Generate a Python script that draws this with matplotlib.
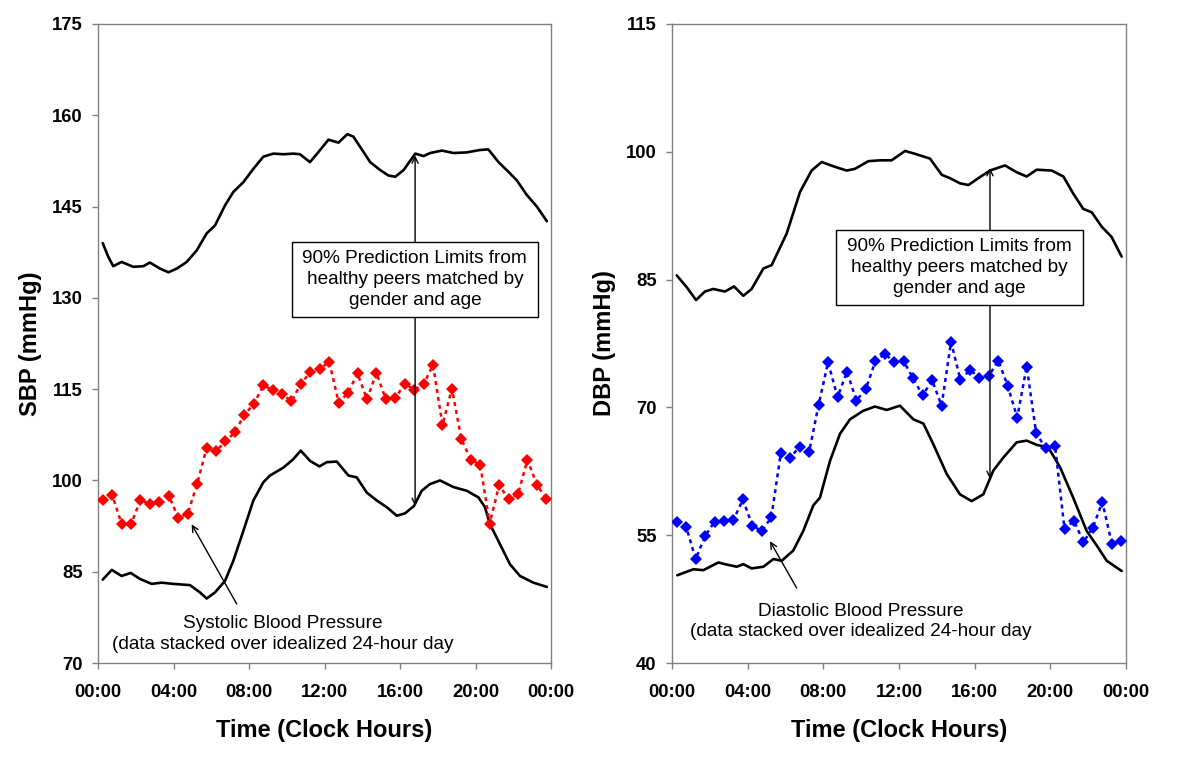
import matplotlib
matplotlib.use("Agg")
import matplotlib.pyplot as plt
from matplotlib.patches import Rectangle

plt.rcParams['font.family'] = ['Liberation Sans', 'DejaVu Sans']

# ---------------- data ----------------
obs_hours = [0.25 + 0.5 * i for i in range(48)]

sbp_values = [96.8, 97.6, 92.9, 92.8, 96.8, 96.1, 96.5, 97.5, 93.9, 94.5,
              99.4, 105.3, 104.8, 106.4, 107.9, 110.8, 112.5, 115.6, 114.9, 114.2,
              113.0, 115.9, 117.8, 118.3, 119.5, 112.8, 114.4, 117.6, 113.3, 117.7,
              113.3, 113.5, 115.9, 114.9, 115.8, 119.0, 109.1, 115.1, 106.8, 103.4,
              102.6, 92.9, 99.2, 97.0, 97.7, 103.4, 99.3, 97.0]

dbp_values = [56.6, 56.0, 52.2, 54.9, 56.6, 56.7, 56.8, 59.2, 56.1, 55.5,
              57.1, 64.6, 64.1, 65.4, 64.8, 70.3, 75.3, 71.2, 74.2, 70.8,
              72.2, 75.4, 76.3, 75.3, 75.4, 73.4, 71.4, 73.2, 70.2, 77.7,
              73.2, 74.4, 73.5, 73.7, 75.5, 72.5, 68.8, 74.8, 67.0, 65.2,
              65.5, 55.7, 56.7, 54.2, 55.9, 58.9, 54.0, 54.3]

sbp_upper_hours = [0.25, 0.55, 0.81, 1.25, 1.87, 2.4, 2.75, 3.29, 3.73, 4.17, 4.70, 5.23,
                   5.76, 6.20, 6.73, 7.17, 7.70, 8.23, 8.76, 9.29, 9.82, 10.35, 10.7,
                   11.23, 11.77, 12.21, 12.74, 13.21, 13.53, 13.89, 14.42, 14.95, 15.39,
                   15.75, 16.19, 16.81, 17.25, 17.6, 18.22, 18.84, 19.54, 20.24, 20.68,
                   21.22, 21.75, 22.19, 22.72, 23.25, 23.78]
sbp_upper_values = [139.0, 136.7, 135.2, 135.9, 135.1, 135.2, 135.8, 134.8, 134.2, 134.8,
                    135.9, 137.8, 140.6, 141.9, 145.2, 147.4, 149.0, 151.2, 153.2, 153.7,
                    153.6, 153.7, 153.6, 152.3, 154.3, 156.0, 155.5, 156.9, 156.5, 154.8,
                    152.3, 151.0, 150.1, 149.9, 151.0, 153.7, 153.3, 153.8, 154.2, 153.8,
                    153.9, 154.3, 154.4, 152.3, 150.7, 149.3, 146.9, 145.0, 142.6]

sbp_lower_hours = [0.25, 0.73, 1.25, 1.73, 2.23, 2.84, 3.37, 3.99, 4.87, 5.40, 5.76, 6.20,
                   6.73, 7.17, 7.70, 8.23, 8.76, 9.11, 9.82, 10.35, 10.74, 11.24, 11.73,
                   12.12, 12.65, 13.27, 13.71, 14.24, 14.77, 15.30, 15.83, 16.27, 16.74,
                   17.15, 17.59, 18.12, 18.84, 19.54, 20.16, 20.50, 20.77, 21.30, 21.83,
                   22.36, 23.07, 23.78]
sbp_lower_values = [83.7, 85.3, 84.3, 84.8, 83.8, 83.0, 83.2, 83.0, 82.8, 81.6, 80.6, 81.6,
                    83.5, 86.8, 91.7, 96.7, 99.7, 100.8, 102.1, 103.5, 104.9, 103.2, 102.3,
                    103.0, 103.1, 100.8, 100.5, 98.0, 96.7, 95.6, 94.2, 94.6, 95.8,
                    98.3, 99.4, 100.0, 98.9, 98.3, 97.2, 95.6, 92.8, 89.5, 86.2,
                    84.3, 83.2, 82.5]

dbp_upper_hours = [0.25, 0.78, 1.27, 1.74, 2.18, 2.80, 3.28, 3.77, 4.21, 4.83, 5.27, 6.06,
                   6.77, 7.38, 7.91, 8.53, 9.23, 9.67, 10.38, 11.00, 11.61, 12.32, 12.94,
                   13.64, 14.26, 14.70, 15.22, 15.67, 16.19, 16.81, 17.60, 18.22, 18.75,
                   19.28, 20.07, 20.69, 21.21, 21.74, 22.19, 22.72, 23.24, 23.77]
dbp_upper_values = [85.5, 84.1, 82.6, 83.6, 83.9, 83.6, 84.2, 83.1, 83.9, 86.3, 86.7, 90.4,
                    95.3, 97.8, 98.8, 98.3, 97.8, 98.0, 98.9, 99.0, 99.0, 100.1, 99.7,
                    99.2, 97.3, 96.9, 96.3, 96.1, 96.9, 97.8, 98.4, 97.6, 97.1,
                    97.9, 97.8, 97.1, 95.1, 93.3, 92.9, 91.2, 90.0, 87.7]

dbp_lower_hours = [0.28, 1.13, 1.66, 2.45, 2.8, 3.42, 3.77, 4.21, 4.83, 5.36, 5.80, 6.41,
                   6.94, 7.47, 7.82, 8.35, 8.88, 9.41, 10.11, 10.73, 11.35, 12.05, 12.76,
                   13.29, 13.81, 14.52, 15.22, 15.84, 16.46, 16.99, 17.51, 18.22, 18.75,
                   19.28, 19.89, 20.51, 21.21, 21.92, 22.45, 22.98, 23.77]
dbp_lower_values = [50.3, 51.0, 50.9, 51.8, 51.6, 51.3, 51.6, 51.1, 51.3, 52.2, 52.0, 53.2,
                    55.5, 58.5, 59.4, 63.7, 66.9, 68.6, 69.6, 70.1, 69.7, 70.2, 68.6,
                    68.1, 65.7, 62.2, 59.8, 59.0, 59.8, 62.6, 64.1, 65.9, 66.1,
                    65.6, 65.3, 63.0, 59.4, 55.5, 53.8, 52.0, 50.8]

x_ticks = [0, 4, 8, 12, 16, 20, 24]
x_tick_labels = ['00:00', '04:00', '08:00', '12:00', '16:00', '20:00', '00:00']
sbp_ticks = [70, 85, 100, 115, 130, 145, 160, 175]
dbp_ticks = [40, 55, 70, 85, 100, 115]

box_text = "90% Prediction Limits from\nhealthy peers matched by\ngender and age"
sbp_note = "Systolic Blood Pressure\n(data stacked over idealized 24-hour day"
dbp_note = "Diastolic Blood Pressure\n(data stacked over idealized 24-hour day"

# ---------------- figure ----------------
fig = plt.figure(figsize=(12, 7.69), dpi=100)
ax1 = fig.add_axes([98 / 1200, 106 / 769, 453 / 1200, 639 / 769])
ax2 = fig.add_axes([672 / 1200, 106 / 769, 454 / 1200, 639 / 769])

GRAY = '#808080'


def style_axes(ax, yticks, ylabel):
    ax.set_xlim(0, 24)
    ax.set_ylim(yticks[0], yticks[-1])
    ax.set_xticks(x_ticks)
    ax.set_xticklabels(x_tick_labels)
    ax.set_yticks(yticks)
    ax.set_yticklabels([str(t) for t in yticks])
    for s in ax.spines.values():
        s.set_color(GRAY)
        s.set_linewidth(1.0)
    ax.tick_params(axis='both', direction='out', length=4, width=1, color=GRAY,
                   labelsize=13.3, labelcolor='black')
    ax.tick_params(axis='x', pad=11)
    ax.tick_params(axis='y', pad=7)
    for lab in ax.get_xticklabels() + ax.get_yticklabels():
        lab.set_fontweight('bold')
    ax.set_xlabel('Time (Clock Hours)', fontsize=17, fontweight='bold', labelpad=13)
    ax.set_ylabel(ylabel, fontsize=17, fontweight='bold', labelpad=7)


def draw_panel(ax, obs, color, up_h, up_v, lo_h, lo_v, yticks, ylabel,
               box, arrow_x, arrow_top, arrow_bot, box_top, box_bot,
               note_xy, note_tail, note_head, note):
    ax.plot(up_h, up_v, color='black', lw=1.9, solid_capstyle='round',
            solid_joinstyle='round', zorder=2)
    ax.plot(lo_h, lo_v, color='black', lw=1.9, solid_capstyle='round',
            solid_joinstyle='round', zorder=2)
    ax.plot(obs_hours, obs, color=color, lw=1.8, linestyle=(0, (1.6, 1.6)),
            marker='D', markersize=6.0, markeredgewidth=0, zorder=3)
    style_axes(ax, yticks, ylabel)

    x0, y0, x1, y1 = box
    ax.add_patch(Rectangle((x0, y0), x1 - x0, y1 - y0, transform=ax.transAxes,
                           facecolor='white', edgecolor='black', lw=1.0, zorder=5))
    ax.text((x0 + x1) / 2, (y0 + y1) / 2, box_text, transform=ax.transAxes,
            ha='center', va='center', fontsize=13.7, linespacing=1.3, zorder=6)

    aprops = dict(arrowstyle='->,head_length=0.45,head_width=0.22', color='black',
                  lw=1.0, shrinkA=0, shrinkB=0)
    ax.annotate('', xy=(arrow_x, arrow_top), xytext=(arrow_x, box_top),
                arrowprops=aprops, zorder=4)
    ax.annotate('', xy=(arrow_x, arrow_bot), xytext=(arrow_x, box_bot),
                arrowprops=aprops, zorder=4)
    ax.annotate('', xy=note_head, xytext=note_tail, arrowprops=aprops, zorder=4)
    ax.text(note_xy[0], note_xy[1], note, transform=ax.transAxes, ha='center',
            va='center', fontsize=13.7, linespacing=1.3, zorder=6)


draw_panel(ax1, sbp_values, '#FF0000', sbp_upper_hours, sbp_upper_values,
           sbp_lower_hours, sbp_lower_values, sbp_ticks, 'SBP (mmHg)',
           box=(0.428, 0.541, 0.971, 0.659), arrow_x=16.8,
           arrow_top=153.4, arrow_bot=95.8, box_top=139.2, box_bot=126.8,
           note_xy=(0.408, 0.046), note_tail=(7.35, 79.7), note_head=(4.96, 92.8),
           note=sbp_note)

draw_panel(ax2, dbp_values, '#0000FF', dbp_upper_hours, dbp_upper_values,
           dbp_lower_hours, dbp_lower_values, dbp_ticks, 'DBP (mmHg)',
           box=(0.3606, 0.5603, 0.9046, 0.6776), arrow_x=16.81,
           arrow_top=98.1, arrow_bot=61.6, box_top=90.8, box_bot=82.0,
           note_xy=(0.416, 0.065), note_tail=(6.59, 48.8), note_head=(5.18, 54.3),
           note=dbp_note)

fig.savefig('out.png', dpi=100, facecolor='white')
